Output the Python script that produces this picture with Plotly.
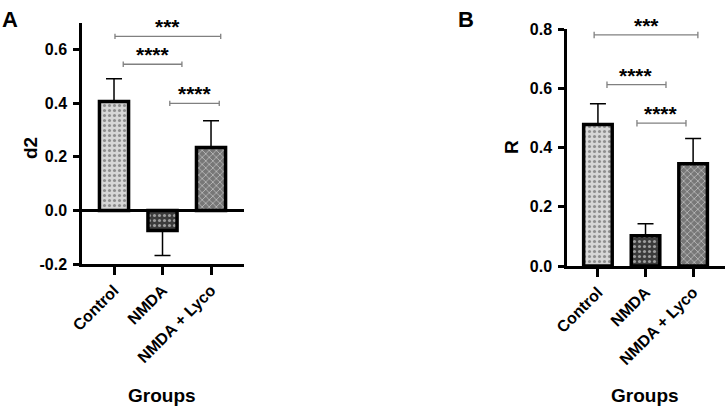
import plotly.graph_objects as go

# groups and values
groups = ["Control", "NMDA", "NMDA + Lyco"]

d2_mean = [0.407, -0.075, 0.235]
d2_err_up = [0.085, 0.0, 0.100]
d2_err_down = [0.0, 0.093, 0.0]

r_mean = [0.478, 0.102, 0.345]
r_err_up = [0.070, 0.041, 0.085]
r_err_down = [0.0, 0.0, 0.0]

# significance brackets: (start, end, height, label)
d2_sig = [(0.02, 2.2, 0.650, "***"), (0.19, 1.4, 0.546, "****"), (1.15, 2.17, 0.400, "****")]
r_sig = [(-0.08, 2.1, 0.780, "***"), (0.19, 1.43, 0.612, "****"), (0.82, 1.85, 0.482, "****")]

d2_ticks = [-0.2, 0.0, 0.2, 0.4, 0.6]
d2_ticktext = ["-0.2", "0.0", "0.2", "0.4", "0.6"]
r_ticks = [0.0, 0.2, 0.4, 0.6, 0.8]
r_ticktext = ["0.0", "0.2", "0.4", "0.6", "0.8"]

bg_colors = ["#d6d6d6", "#3c3c3c", "#777777"]
fg_colors = ["#5a5a5a", "#a8a8a8", "#c4c4c4"]
shapes_pat = [".", ".", "x"]

FONT = "Liberation Sans, Arial, sans-serif"
W, H = 726, 406


def px(x):
    # pixel -> paper fraction
    return x / W


def py(y):
    return 1 - y / H


fig = go.Figure()


def add_bars(means, up, down, xa, ya):
    fig.add_trace(go.Bar(
        x=groups, y=means, xaxis=xa, yaxis=ya, width=0.6,
        marker=dict(color=bg_colors, line=dict(color="black", width=3.5),
                    pattern=dict(shape=shapes_pat, fgcolor=fg_colors,
                                 fillmode="overlay", size=5, solidity=0.3)),
        error_y=dict(type="data", symmetric=False, array=up, arrayminus=down,
                     color="black", thickness=1.5, width=8),
        showlegend=False, cliponaxis=False,
    ))


add_bars(d2_mean, d2_err_up, d2_err_down, "x", "y")
add_bars(r_mean, r_err_up, r_err_down, "x2", "y2")

axis_common = dict(showline=True, linecolor="black", linewidth=2.5,
                   ticks="outside", tickcolor="black", tickwidth=2.5,
                   showgrid=False, automargin=False,
                   tickfont=dict(family=FONT, size=16, color="black",
                                 weight="bold"))

fig.update_layout(
    width=W, height=H,
    margin=dict(l=0, r=0, t=0, b=0, pad=0, autoexpand=False),
    plot_bgcolor="white", paper_bgcolor="white", bargap=0.4,
    xaxis=dict(domain=[px(82), px(244)], anchor="y", range=[-0.66, 2.68],
               tickangle=-45, ticklen=8, zeroline=False, **axis_common),
    yaxis=dict(domain=[py(264), py(23)], anchor="x", range=[-0.2, 0.70],
               tickvals=d2_ticks, ticktext=d2_ticktext, ticklen=6,
               zeroline=True, zerolinecolor="black", zerolinewidth=2.5,
               ticklabelstandoff=3, **axis_common),
    xaxis2=dict(domain=[px(567), px(725)], anchor="y2", range=[-0.65, 2.67],
                tickangle=-45, ticklen=8, zeroline=False, **axis_common),
    yaxis2=dict(domain=[py(266), py(29)], anchor="x2", range=[0, 0.8],
                tickvals=r_ticks, ticktext=r_ticktext, ticklen=6,
                zeroline=False, ticklabelstandoff=3, **axis_common),
)


def add_sig(sig, xr, yr, tick):
    for x0, x1, h, label in sig:
        fig.add_shape(type="line", xref=xr, yref=yr, x0=x0, x1=x1, y0=h, y1=h,
                      line=dict(color="#808080", width=1.3))
        for xe in (x0, x1):
            fig.add_shape(type="line", xref=xr, yref=yr, x0=xe, x1=xe,
                          y0=h - tick, y1=h + tick,
                          line=dict(color="#808080", width=1.3))
        fig.add_annotation(x=(x0 + x1) / 2, y=h, xref=xr, yref=yr, text=label,
                           showarrow=False, xanchor="center", yanchor="bottom",
                           yshift=-4,
                           font=dict(family=FONT, size=21, color="black",
                                     weight="bold"))


add_sig(d2_sig, "x", "y", 0.01)
add_sig(r_sig, "x2", "y2", 0.011)


def label(x, y, text, size, angle=0):
    fig.add_annotation(x=px(x), y=py(y), xref="paper", yref="paper",
                       text=text, textangle=angle, showarrow=False,
                       xanchor="center", yanchor="middle",
                       font=dict(family=FONT, size=size, color="black",
                                 weight="bold"))


label(162, 395, "Groups", 19)
label(645, 395, "Groups", 19)
label(30, 148, "d2", 19, -90)
label(512, 147, "R", 19, -90)
label(10, 19, "A", 22)
label(466, 19, "B", 22)

# drop the page's default body margin so the chart sits at the window corner
fig.write_html("out.html", config={"displayModeBar": False},
               post_script="document.body.style.margin='0';")
